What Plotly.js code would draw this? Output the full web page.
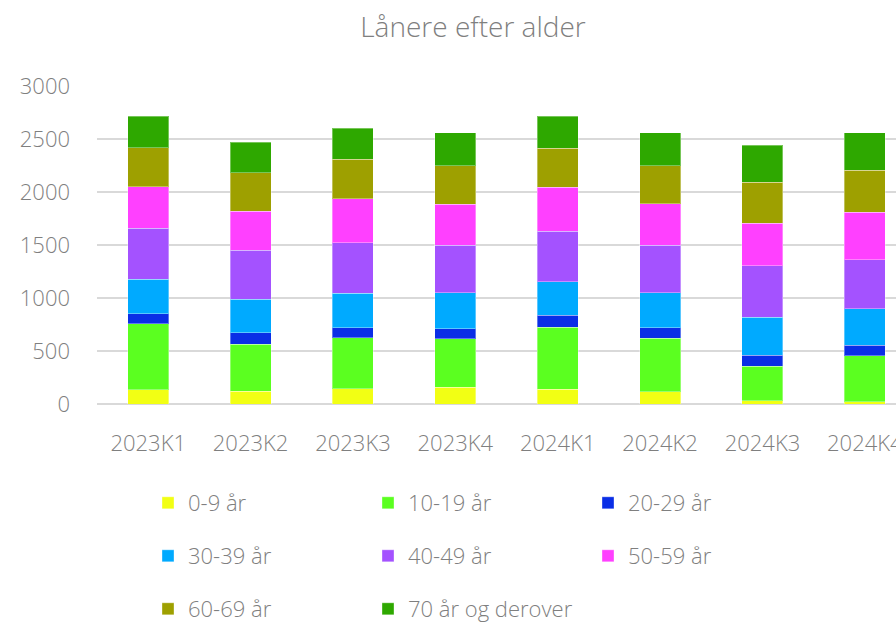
<!DOCTYPE html>
<html>
<head>
<meta charset="utf-8">
<script src="https://cdn.plot.ly/plotly-3.0.1.min.js"></script>
<style>
html,body{margin:0;padding:0;overflow:hidden;background:#fff;}
#chart{width:946px;height:622px;}
</style>
</head>
<body>
<div id="chart"></div>
<script>
const categories = ["2023K1","2023K2","2023K3","2023K4","2024K1","2024K2","2024K3","2024K4"];
const seriesNames = ["0-9 år","10-19 år","20-29 år","30-39 år","40-49 år","50-59 år","60-69 år","70 år og derover"];
const age0_9   = [135, 122, 144, 157, 141, 116, 31, 22];
const age10_19 = [624, 443, 483, 458, 584, 505, 326, 433];
const age20_29 = [94, 109, 91, 97, 110, 97, 101, 97];
const age30_39 = [324, 315, 327, 339, 320, 333, 361, 348];
const age40_49 = [480, 461, 477, 446, 474, 446, 483, 462];
const age50_59 = [392, 370, 414, 386, 417, 392, 402, 446];
const age60_69 = [368, 364, 371, 367, 367, 361, 386, 395];
const age70plus = [298, 286, 295, 308, 302, 308, 352, 358];
const yTicks = [0, 500, 1000, 1500, 2000, 2500, 3000];

const seriesValues = [age0_9, age10_19, age20_29, age30_39, age40_49, age50_59, age60_69, age70plus];
const colors = ["#f2ff14","#5bff20","#0a2ee6","#00aaff","#a452ff","#ff40ff","#9ea000","#2ea800"];
const legendIds = ["legend","legend","legend","legend2","legend2","legend2","legend3","legend3"];

const FONT = "'Open Sans', sans-serif";
const GRAY = "#7f7f7f";

const traces = seriesNames.map((name, i) => ({
  type: "bar",
  name: name,
  x: categories,
  y: seriesValues[i],
  marker: {color: colors[i], line: {color: "rgba(255,255,255,0.35)", width: 1}},
  legend: legendIds[i],
  hoverinfo: "name+y"
}));

function legendRow(y) {
  return {
    orientation: "h",
    xref: "container", yref: "container",
    x: 148/946, y: y,
    xanchor: "left", yanchor: "middle",
    traceorder: "normal",
    entrywidth: 175,
    font: {family: FONT, size: 22, color: GRAY, weight: 300},
    bgcolor: "rgba(0,0,0,0)"
  };
}

const layout = {
  width: 946, height: 622,
  margin: {l: 97, r: 30, t: 86, b: 218},
  paper_bgcolor: "#fff", plot_bgcolor: "#fff",
  barmode: "stack",
  bargap: 0.6,
  title: {text: "Lånere efter alder", x: 0.5, xanchor: "center", y: 1 - 27/622, yanchor: "middle",
          font: {family: FONT, size: 28, color: GRAY, weight: 300}},
  font: {family: FONT, color: GRAY},
  xaxis: {
    type: "category",
    showgrid: false,
    showline: false,
    zeroline: false,
    ticks: "outside", ticklen: 20, tickcolor: "rgba(0,0,0,0)",
    tickfont: {family: FONT, size: 22, color: GRAY, weight: 300}
  },
  yaxis: {
    range: [0, 3000],
    tickvals: yTicks,
    showgrid: true, gridcolor: "#d9d9d9", gridwidth: 1.5,
    zeroline: true, zerolinecolor: "#d9d9d9", zerolinewidth: 1.5,
    showline: false,
    ticklabelstandoff: 26,
    tickfont: {family: FONT, size: 22, color: GRAY, weight: 300}
  },
  showlegend: true,
  legend: legendRow(1 - 503/622),
  legend2: legendRow(1 - 556/622),
  legend3: legendRow(1 - 609/622)
};

Plotly.newPlot("chart", traces, layout, {displayModeBar: false, staticPlot: true});
</script>
</body>
</html>
